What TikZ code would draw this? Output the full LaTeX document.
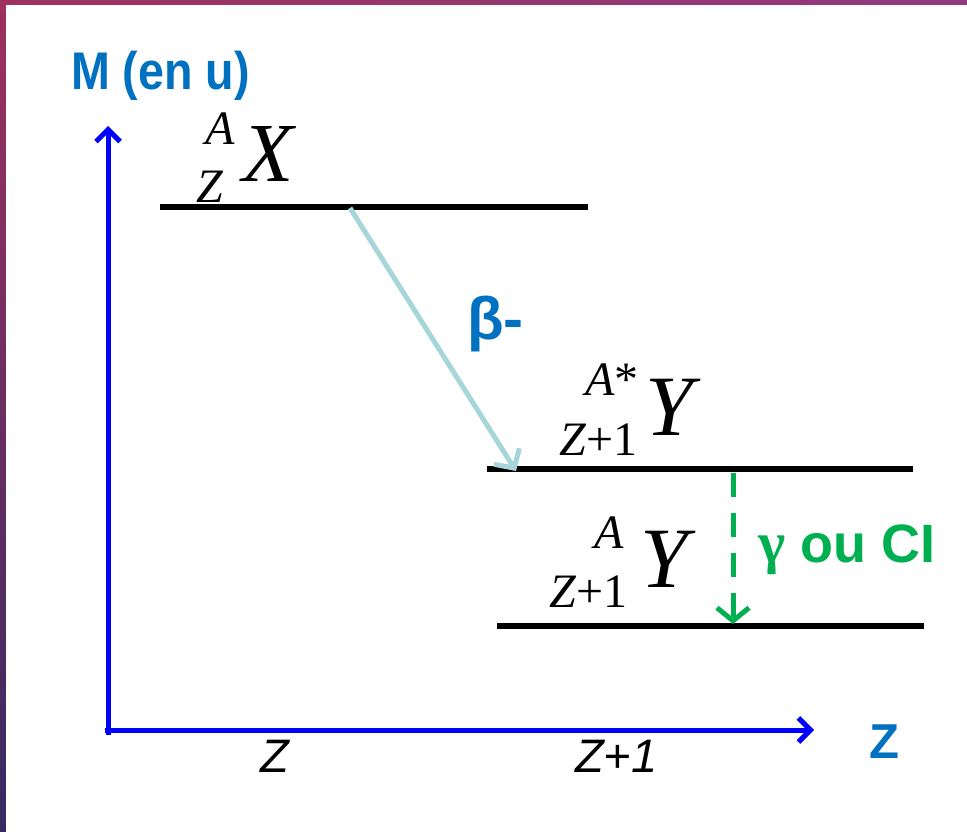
\documentclass[tikz,border=0pt]{standalone}
\usepackage{fontspec}
\setmainfont{Liberation Serif}
\setsansfont{Liberation Sans}
\usetikzlibrary{arrows.meta}
\definecolor{axisblue}{HTML}{0000FF}
\definecolor{lblblue}{HTML}{0070C0}
\definecolor{betacyan}{HTML}{A6D6DA}
\definecolor{gamgreen}{HTML}{00B050}
\definecolor{frameA}{HTML}{9E315F}
\definecolor{frameB}{HTML}{8F3A7F}
\definecolor{frameC}{HTML}{362A62}
\begin{document}
\begin{tikzpicture}[x=1pt,y=-1pt,
  axisline/.style={draw=axisblue,line width=5pt,-{Straight Barb[length=12pt,width=24pt]}},
  levelline/.style={draw=black,line width=6pt},
  betaarrow/.style={draw=betacyan,line width=5pt,-{Straight Barb[length=14pt,width=30pt]}},
  gamarrow/.style={draw=gamgreen,line width=5pt,dash pattern=on 24pt off 16pt,-{Straight Barb[length=13pt,width=32pt]}},
  txt/.style={inner sep=0pt,anchor=base west},
  mainsym/.style={txt,font=\fontsize{84}{90}\selectfont\itshape},
  ysym/.style={txt,font=\fontsize{86}{92}\selectfont\itshape},
  idx/.style={txt,font=\fontsize{48}{52}\selectfont},
  bluelbl/.style={txt,text=lblblue,font=\sffamily\bfseries},
  ticklbl/.style={txt,font=\fontsize{47}{52}\selectfont\sffamily\itshape}
]
\useasboundingbox (0,0) rectangle (967,832);
% frame
\shade[top color=frameA,bottom color=frameC] (0,0) rectangle (8,832);
\shade[left color=frameA,right color=frameB] (0,0) rectangle (967,6);
\fill[white] (6,5) rectangle (967,832);

% axes
\coordinate (origin) at (108,735);
\coordinate (ytop) at (108,126);
\coordinate (xstart) at (105,730);
\coordinate (xend) at (814,730);
\draw[axisline] (origin) -- (ytop);
\draw[axisline] (xstart) -- (xend);

\node[bluelbl,font=\fontsize{53}{58}\selectfont\sffamily\bfseries,xscale=0.88] (mlbl) at (71,90) {M (en u)};
\node[bluelbl,font=\fontsize{49}{54}\selectfont\sffamily\bfseries] (zlbl) at (869,758) {Z};
\node[ticklbl] (tickz) at (260,772) {Z};
\node[ticklbl] (tickz1) at (575,772) {Z+1};

% levels
\coordinate (l1a) at (160,207); \coordinate (l1b) at (588,207);
\coordinate (l2a) at (487,469); \coordinate (l2b) at (913,469);
\coordinate (l3a) at (497,626); \coordinate (l3b) at (924,626);
\draw[levelline] (l1a) -- (l1b);
\draw[levelline] (l2a) -- (l2b);
\draw[levelline] (l3a) -- (l3b);

% nuclide X
\node[mainsym] (X) at (242,182) {X};
\node[idx,font=\fontsize{48}{52}\selectfont\itshape] (XA) at (205,145) {A};
\node[idx,font=\fontsize{48}{52}\selectfont\itshape] (XZ) at (196,203) {Z};

% nuclide Y*
\node[ysym] (Ys) at (645,435) {Y};
\node[idx] (YsA) at (585,395) {\textit{A}*};
\node[idx] (YsZ) at (559,455) {\textit{Z}+1};

% nuclide Y
\node[ysym] (Y) at (640,587) {Y};
\node[idx] (YA) at (594,548) {\textit{A}};
\node[idx] (YZ) at (549,607) {\textit{Z}+1};

% beta transition
\coordinate (bstart) at (350,208);
\coordinate (bend) at (516,471);
\draw[betaarrow] (bstart) -- (bend);
\node[bluelbl,font=\fontsize{60}{66}\selectfont\sffamily\bfseries] (beta) at (467,339) {β-};

% gamma transition
\coordinate (gstart) at (733,473);
\coordinate (gend) at (733,624);
\draw[gamarrow] (gstart) -- (gend);
\node[txt,text=gamgreen,font=\fontsize{54}{60}\selectfont\sffamily\bfseries] (gam) at (758,562) {{\rmfamily\bfseries\fontsize{58}{60}\selectfont γ} ou CI};
\end{tikzpicture}
\end{document}
